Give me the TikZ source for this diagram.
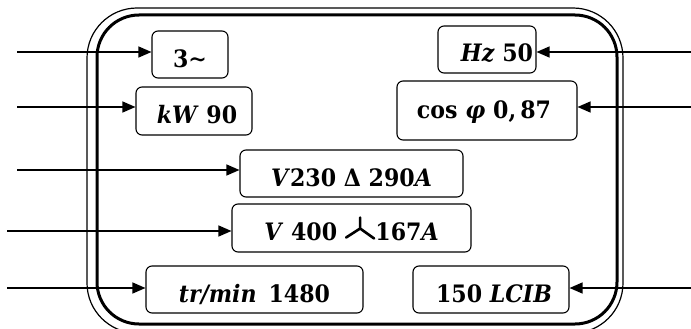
\documentclass[tikz,border=0pt]{standalone}
\usepackage{fontspec}
\setmainfont{DejaVu Serif}[FakeStretch=0.92]
\usetikzlibrary{arrows.meta}
\newcommand\wyesym{\tikz[baseline=0pt,x=1pt,y=1pt]\draw[line width=2.6pt,line cap=round,sharp corners] (0,3) -- (14,12) -- (28,2) (14,12) -- (14,23);}
\begin{document}
\begin{tikzpicture}[x=1pt,y=-1pt,
  lbl/.style={draw, line width=1.1pt, rounded corners=6pt, inner sep=0pt,
    text height=25pt, text depth=0pt,
    font=\fontsize{24}{28}\selectfont\bfseries},
  arr/.style={line width=1.3pt, -{Triangle[length=13pt,width=11pt]}},
  thinframe/.style={line width=1.2pt, rounded corners=50pt},
  thickframe/.style={line width=3pt, rounded corners=42pt}]
\useasboundingbox (0,0) rectangle (691,329);
% frame
\draw[thinframe] (87,8) rectangle (623,333);
\draw[thickframe] (97,15) rectangle (617,324);
% boxes
\node[lbl, minimum width=76pt, minimum height=47pt] (b1) at (190,54.5) {3∼};
\node[lbl, minimum width=116pt, minimum height=48pt] (b2) at (194,111) {\hspace*{6pt}\textit{kW} 90};
\node[lbl, minimum width=98pt, minimum height=47pt] (b3) at (487,49.5) {\hspace*{20pt}\textit{Hz} 50};
\node[lbl, minimum width=180pt, minimum height=59pt, text height=15pt] (b4) at (487,110.5) {cos \textit{φ}\hspace{8pt}0,\,87\hspace*{6pt}};
\node[lbl, minimum width=223pt, minimum height=47pt] (b5) at (351.5,173.5) {\textit{V}230 Δ 290\textit{A}};
\node[lbl, minimum width=239pt, minimum height=48pt] (b6) at (351.5,228) {\textit{V} 400 \wyesym167\textit{A}};
\node[lbl, minimum width=217pt, minimum height=47pt] (b7) at (254.5,289.5) {\textit{tr/min}\hspace{12pt}1480};
\node[lbl, minimum width=156pt, minimum height=47pt] (b8) at (491,289.5) {\hspace*{6pt}150 \textit{LCIB}};
% arrow ends
\coordinate (s1) at (17,52);
\coordinate (s2) at (17,107);
\coordinate (s5) at (17,170);
\coordinate (s6) at (7,231);
\coordinate (s7) at (7,288);
\coordinate (s3) at (691,52);
\coordinate (s4) at (691,107);
\coordinate (s8) at (691,288);
\draw[arr] (s1) -- (s1 -| b1.west);
\draw[arr] (s2) -- (s2 -| b2.west);
\draw[arr] (s5) -- (s5 -| b5.west);
\draw[arr] (s6) -- (s6 -| b6.west);
\draw[arr] (s7) -- (s7 -| b7.west);
\draw[arr] (s3) -- (s3 -| b3.east);
\draw[arr] (s4) -- (s4 -| b4.east);
\draw[arr] (s8) -- (s8 -| b8.east);
\end{tikzpicture}
\end{document}
